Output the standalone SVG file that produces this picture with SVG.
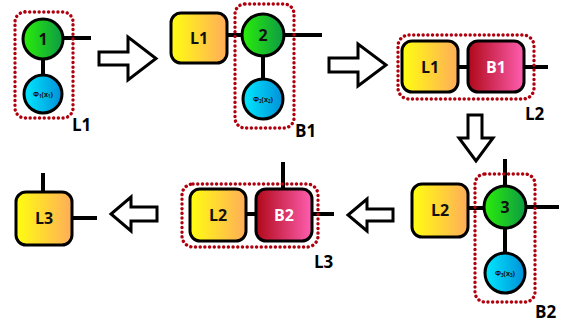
<svg xmlns="http://www.w3.org/2000/svg" width="569" height="323" viewBox="0 0 569 323">
<defs>
<linearGradient id="gy" x1="0" y1="0" x2="1" y2="0"><stop offset="0" stop-color="#ffff10"/><stop offset="1" stop-color="#ffac5a"/></linearGradient>
<linearGradient id="gr" x1="0" y1="0" x2="1" y2="0"><stop offset="0" stop-color="#b00818"/><stop offset="1" stop-color="#ff5eb0"/></linearGradient>
<linearGradient id="gg" x1="0" y1="0" x2="1" y2="0"><stop offset="0" stop-color="#2aee08"/><stop offset="1" stop-color="#0d9a45"/></linearGradient>
<linearGradient id="gb" x1="0" y1="0" x2="1" y2="0"><stop offset="0" stop-color="#00e8ff"/><stop offset="1" stop-color="#0090d8"/></linearGradient>
</defs>
<style>
.ln{stroke:#000;stroke-width:4;fill:none}
.box{stroke:#000;stroke-width:3}
.y{fill:url(#gy)}
.r{fill:url(#gr)}
.g{fill:url(#gg)}
.b{fill:url(#gb)}
.dot{fill:none;stroke:#b0000e;stroke-width:3.4;stroke-dasharray:0.1 4.6;stroke-linecap:round}
.arr{fill:#fff;stroke:#000;stroke-width:3;stroke-linejoin:miter}
text{font-family:"Open Sans","DejaVu Sans",sans-serif;font-weight:bold;text-anchor:middle}
.t{font-size:16px;fill:#111}
.tw{font-size:16px;fill:#fff}
.lab{font-size:17px;fill:#000;text-anchor:start}
.phi{font-size:7px;fill:#111}
</style>
<g id="connectors">
<line class="ln" x1="63" y1="38" x2="91" y2="38"/>
<line class="ln" x1="43" y1="60" x2="43" y2="75"/>
<line class="ln" x1="227" y1="35" x2="243" y2="35"/>
<line class="ln" x1="284" y1="35" x2="322" y2="35"/>
<line class="ln" x1="263" y1="56" x2="263" y2="80"/>
<line class="ln" x1="458" y1="67" x2="468" y2="67"/>
<line class="ln" x1="524" y1="67" x2="548" y2="67"/>
<line class="ln" x1="468" y1="208" x2="484" y2="208"/>
<line class="ln" x1="505" y1="159" x2="505" y2="186"/>
<line class="ln" x1="526" y1="207" x2="559" y2="207"/>
<line class="ln" x1="505" y1="228" x2="505" y2="254"/>
<line class="ln" x1="246" y1="214" x2="256" y2="214"/>
<line class="ln" x1="283" y1="162" x2="283" y2="188"/>
<line class="ln" x1="312" y1="214" x2="334" y2="214"/>
<line class="ln" x1="43" y1="173" x2="43" y2="192"/>
<line class="ln" x1="72" y1="218" x2="97" y2="218"/>
<polygon class="arr" points="99,52 128,52 128,37 156,58.5 128,80 128,65 99,65"/>
<polygon class="arr" points="329,58 358,58 358,44 386,65 358,86 358,72 329,72"/>
<polygon class="arr" points="468,115 482,115 482,138 493,138 476,161 459,138 468,138"/>
<polygon class="arr" points="393,209 367,209 367,199 348,215 367,231 367,221 393,221"/>
<polygon class="arr" points="157,207 131,207 131,197 111,214 131,231 131,221 157,221"/>
</g>
<g id="L1grp">
<rect class="dot" x="15" y="12" width="58" height="106" rx="10"/>
<text class="lab" x="72" y="131">L1</text>
</g>
<g id="n1"><circle class="box g" cx="43" cy="39" r="20"/><text class="t" x="43" y="45">1</text></g>
<g id="phi1"><circle class="box b" cx="43" cy="94" r="19"/><text class="phi" x="43" y="96.5">Φ<tspan font-size="4.5" dy="1">1</tspan><tspan dy="-1">(x</tspan><tspan font-size="4.5" dy="1">1</tspan><tspan dy="-1">)</tspan></text></g>
<g id="L1a"><rect class="box y" x="171" y="13" width="56" height="50" rx="10"/><text class="t" x="199" y="44">L1</text></g>
<g id="B1grp">
<rect class="dot" x="235" y="4" width="59" height="124" rx="10"/>
<text class="lab" x="295" y="137">B1</text>
</g>
<g id="n2"><circle class="box g" cx="263" cy="35" r="21"/><text class="t" x="263" y="41">2</text></g>
<g id="phi2"><circle class="box b" cx="263" cy="99" r="20"/><text class="phi" x="263" y="101.5">Φ<tspan font-size="4.5" dy="1">2</tspan><tspan dy="-1">(x</tspan><tspan font-size="4.5" dy="1">2</tspan><tspan dy="-1">)</tspan></text></g>
<g id="L2grp">
<rect class="dot" x="398" y="35" width="136" height="64" rx="11"/>
<text class="lab" x="525" y="120">L2</text>
</g>
<g id="L1b"><rect class="box y" x="402" y="41" width="56" height="51" rx="10"/><text class="t" x="430" y="73">L1</text></g>
<g id="B1b"><rect class="box r" x="468" y="41" width="56" height="51" rx="10"/><text class="tw" x="496" y="73">B1</text></g>
<g id="L2a"><rect class="box y" x="412" y="184" width="56" height="53" rx="10"/><text class="t" x="440" y="216">L2</text></g>
<g id="B2grp">
<rect class="dot" x="475" y="174" width="60" height="128" rx="10"/>
<text class="lab" x="535" y="318">B2</text>
</g>
<g id="n3"><circle class="box g" cx="505" cy="207" r="21"/><text class="t" x="505" y="213">3</text></g>
<g id="phi3"><circle class="box b" cx="505" cy="273" r="20"/><text class="phi" x="505" y="275.5">Φ<tspan font-size="4.5" dy="1">3</tspan><tspan dy="-1">(x</tspan><tspan font-size="4.5" dy="1">3</tspan><tspan dy="-1">)</tspan></text></g>
<g id="L3grp">
<rect class="dot" x="182" y="184" width="136" height="63" rx="11"/>
<text class="lab" x="314" y="268">L3</text>
</g>
<g id="L2b"><rect class="box y" x="190" y="189" width="56" height="52" rx="10"/><text class="t" x="218" y="221">L2</text></g>
<g id="B2b"><rect class="box r" x="256" y="189" width="56" height="52" rx="10"/><text class="tw" x="284" y="221">B2</text></g>
<g id="L3"><rect class="box y" x="16" y="192" width="56" height="53" rx="10"/><text class="t" x="44" y="224">L3</text></g>
</svg>
